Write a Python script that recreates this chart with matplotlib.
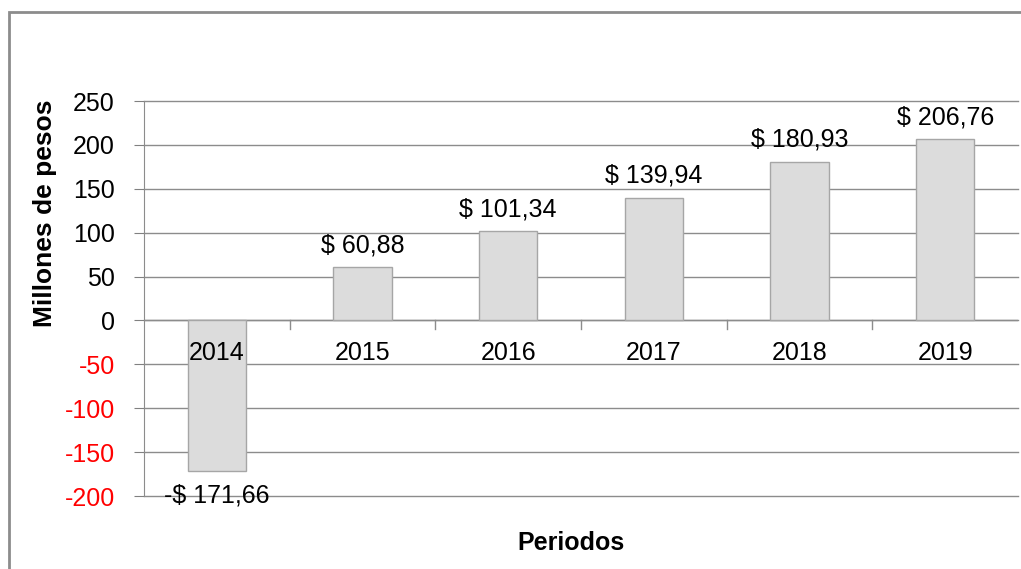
import matplotlib
matplotlib.use('Agg')
import matplotlib.pyplot as plt
import numpy as np
from matplotlib.patches import Rectangle

periodos = ['2014', '2015', '2016', '2017', '2018', '2019']
valores = [-171.66, 60.88, 101.34, 139.94, 180.93, 206.76]
etiquetas = ['-$ 171,66', '$ 60,88', '$ 101,34', '$ 139,94', '$ 180,93', '$ 206,76']
yticks = [-200, -150, -100, -50, 0, 50, 100, 150, 200, 250]

plt.rcParams['font.family'] = ['Liberation Sans', 'DejaVu Sans']

fig = plt.figure(figsize=(10.21, 5.69), dpi=100)
ax = fig.add_axes([144 / 1021, 1 - 496 / 569, (1018 - 144) / 1021, (496 - 101) / 569])

x = np.arange(len(periodos))
ax.bar(x, valores, width=0.4, color='#dcdcdc', edgecolor='#a6a6a6', linewidth=1, zorder=3)

ax.set_xlim(-0.5, len(periodos) - 0.5)
ax.set_ylim(-200, 250)
ax.set_yticks(yticks)
ax.set_yticklabels([str(t) for t in yticks], fontsize=18)
for lab, t in zip(ax.get_yticklabels(), yticks):
    lab.set_color('red' if t < 0 else 'black')
ax.tick_params(axis='y', length=7, color='#808080', pad=14)
ax.grid(axis='y', color='#8c8c8c', linewidth=1, zorder=0)
for gl in ax.get_ygridlines():
    gl.set_clip_on(False)

for s in ['top', 'right', 'bottom']:
    ax.spines[s].set_visible(False)
ax.spines['left'].set_color('#8c8c8c')

# eje de categorias sobre y=0
ax.set_xticks([])
ax.axhline(0, color='#8c8c8c', linewidth=1, zorder=2)
for b in np.arange(0.5, len(periodos) - 0.5, 1):
    ax.plot([b, b], [0, -10], color='#8c8c8c', linewidth=1, zorder=2, clip_on=False)
for xi, p in zip(x, periodos):
    ax.text(xi, -37, p, ha='center', va='center', fontsize=18, zorder=4)

for xi, v, lab in zip(x, valores, etiquetas):
    if v >= 0:
        ax.text(xi, v + 11, lab, ha='center', va='bottom', fontsize=18, zorder=4)
    else:
        ax.text(xi, v - 14, lab, ha='center', va='top', fontsize=18, zorder=4,
                clip_on=False)

ax.set_ylabel('Millones de pesos', fontsize=19, fontweight='bold')
ax.yaxis.set_label_coords(-0.100, 0.716)
fig.text((144 + 1018) / 2 / 1021 - 0.01, 1 - 543 / 569, 'Periodos', ha='center', va='center',
         fontsize=18, fontweight='bold')

fig.patches.append(Rectangle((9 / 1021, -0.05), 1.1, 1 - 12 / 569 + 0.05,
                             transform=fig.transFigure, fill=False,
                             edgecolor='#8c8c8c', linewidth=2))

fig.savefig('out.png', dpi=100)
